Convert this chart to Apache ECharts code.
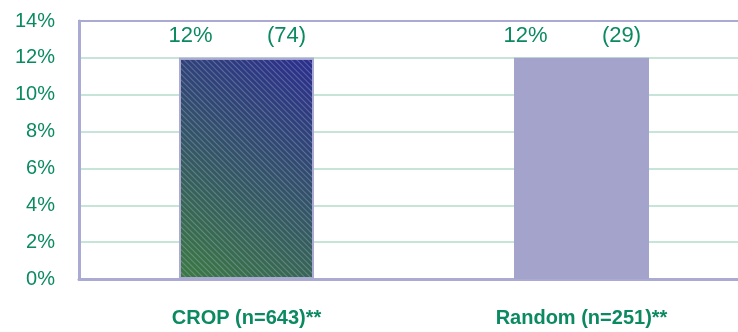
<!DOCTYPE html>
<html>
<head>
<meta charset="utf-8">
<script src="https://cdn.jsdelivr.net/npm/echarts@6/dist/echarts.min.js"></script>
<style>
  html, body { margin: 0; padding: 0; background: #fff; }
  #chart { width: 738px; height: 332px; }
</style>
</head>
<body>
<div id="chart"></div>
<script>
// data
var categories = ['CROP (n=643)**', 'Random (n=251)**']
var pctValues = [12, 12]
var counts = [74, 29]
var yTicks = [0, 2, 4, 6, 8, 10, 12, 14]

var green = '#0b8a62'
var lavender = '#aaaad2'

var chart = echarts.init(document.getElementById('chart'))

var option = {
  animation: false,
  grid: {
    left: 79,
    top: 21,
    width: 670,
    bottom: 53,
    outerBoundsMode: 'none',
    show: true,
    borderColor: lavender,
    borderWidth: 2
  },
  xAxis: {
    type: 'category',
    data: categories,
    axisTick: { show: false },
    axisLine: { lineStyle: { color: lavender, width: 3 } },
    axisLabel: {
      color: green,
      fontFamily: 'Liberation Sans',
      fontWeight: 'bold',
      fontSize: 20,
      margin: 29
    }
  },
  yAxis: {
    type: 'value',
    min: yTicks[0],
    max: yTicks[yTicks.length - 1],
    interval: 2,
    axisLine: { show: true, lineStyle: { color: lavender, width: 3 } },
    axisTick: { show: false },
    splitLine: { showMaxLine: false, lineStyle: { color: '#c6e4d8', width: 2 } },
    axisLabel: {
      color: green,
      fontFamily: 'Liberation Sans',
      fontSize: 20,
      margin: 24,
      formatter: '{value}%'
    }
  },
  series: [
    {
      type: 'bar',
      barWidth: 135,
      data: pctValues.map(function (v, i) {
        if (i === 0) {
          return {
            value: v,
            itemStyle: {
              color: new echarts.graphic.LinearGradient(1, 0, 0, 1, [
                { offset: 0, color: '#2b2d8e' },
                { offset: 1, color: '#3c7a42' }
              ]),
              borderColor: lavender,
              borderWidth: 2,
              decal: {
                symbol: 'rect',
                symbolSize: 1,
                dashArrayX: [1, 0],
                dashArrayY: [1, 3],
                rotation: Math.PI / 4,
                color: 'rgba(200,210,230,0.3)'
              }
            }
          }
        }
        return { value: v, itemStyle: { color: '#a3a3cc' } }
      }),
      label: {
        show: true,
        position: 'top',
        offset: [-56, -6],
        color: green,
        fontFamily: 'Liberation Sans',
        fontSize: 22,
        formatter: '{c}%'
      }
    },
    {
      // invisible copy to hold the count labels
      type: 'bar',
      barWidth: 135,
      barGap: '-100%',
      silent: true,
      itemStyle: { color: 'rgba(0,0,0,0)' },
      data: pctValues,
      label: {
        show: true,
        position: 'top',
        offset: [40, -6],
        color: green,
        fontFamily: 'Liberation Sans',
        fontSize: 22,
        formatter: function (p) {
          return '(' + counts[p.dataIndex] + ')'
        }
      }
    }
  ]
}
chart.setOption(option)
</script>
</body>
</html>
